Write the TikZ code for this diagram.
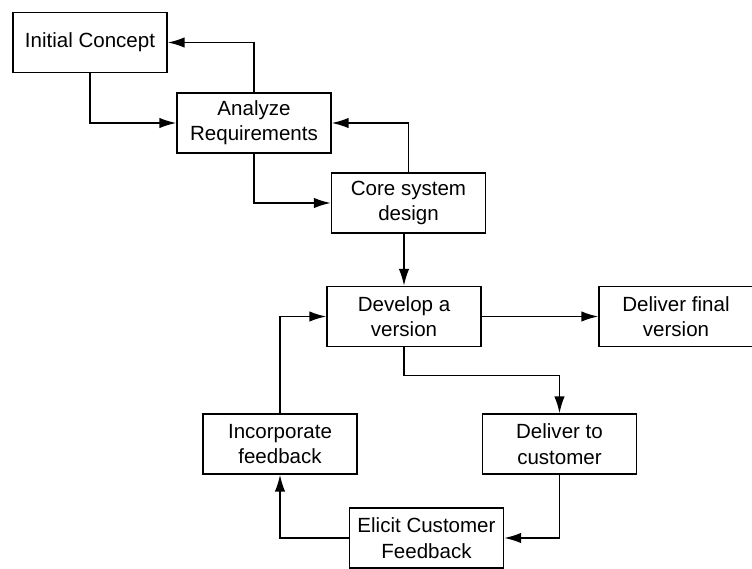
\documentclass[tikz,border=0pt]{standalone}
\usepackage{fontspec}
\setmainfont{Liberation Sans}
\usetikzlibrary{arrows.meta}
\tikzset{>={Latex[length=4.2mm,width=2.6mm]}}
\tikzset{stage/.style={rectangle,draw,align=center,minimum width=3.85cm,minimum height=1.5cm,inner sep=1pt,font=\fontsize{14.6}{18}\selectfont}}

\begin{document}
\begin{tikzpicture}[x=0.025cm, y=-0.025cm, line width=1.1pt]
			\useasboundingbox (0,0) rectangle (752,568);
			\node (init) at (90,42.5) [stage] {Initial Concept};
			\node (analyze) at (254,123) [stage] {Analyze\\Requirements};
			\node (core) at (408.5,203) [stage] {Core system\\design};
			\node (develop) at (404,316.5) [stage] {Develop a\\version};
			\node (final) at (676,316.5) [stage] {Deliver final\\version};
			\node (customer) at (559.5,444) [stage] {Deliver to\\customer};
			\node (incorp) at (280,444) [stage] {Incorporate\\feedback};
			\node (elicit) at (426.5,538) [stage] {Elicit Customer\\Feedback};
			\draw[->] (init.south) |- (analyze.west);
			\draw[->] (analyze.north) |- (init.east);
			\draw[->] (analyze.south) |- (core.west);
			\draw[->] (core.north) |- (analyze.east);
			\draw[->] (develop.north |- core.south) -- (develop.north);
			\draw[->] (develop) -- (final);
			\draw[->] (develop.south) -- ++(0,28) -| (customer.north);
			\draw[->] (customer.south) |- (elicit.east);
			\draw[->] (elicit.west) -| (incorp.south);
			\draw[->] (incorp.north) |- (develop.west);
		\end{tikzpicture}
\end{document}
